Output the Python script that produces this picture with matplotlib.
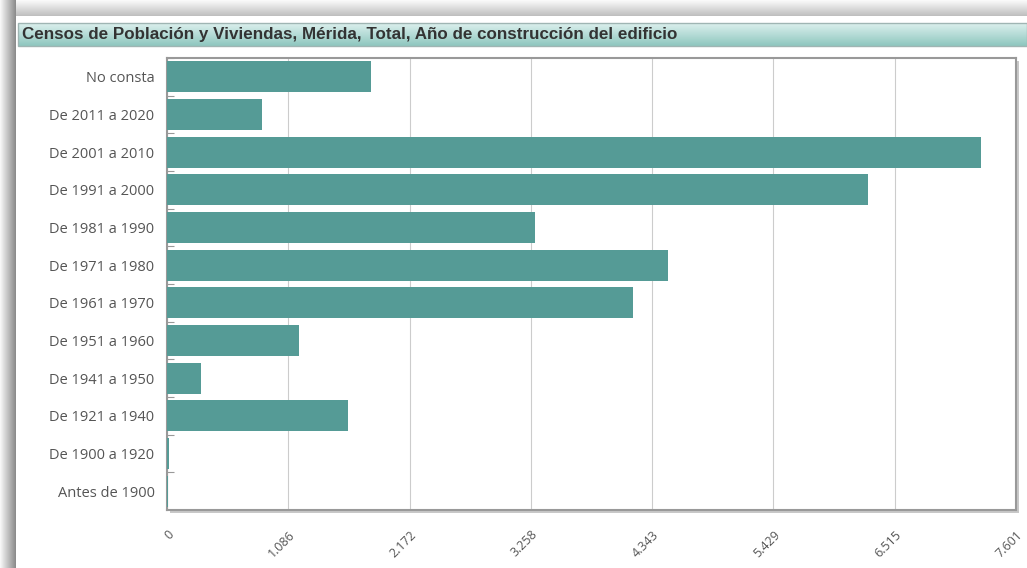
import numpy as np
import matplotlib
matplotlib.use('Agg')
import matplotlib.pyplot as plt
from matplotlib.patches import Rectangle

# data
categorias = ['No consta', 'De 2011 a 2020', 'De 2001 a 2010', 'De 1991 a 2000',
              'De 1981 a 1990', 'De 1971 a 1980', 'De 1961 a 1970', 'De 1951 a 1960',
              'De 1941 a 1950', 'De 1921 a 1940', 'De 1900 a 1920', 'Antes de 1900']
viviendas = [1826, 851, 7288, 6276, 3295, 4485, 4172, 1182, 304, 1620, 18, 5]
x_max = 7601
x_ticks = [0, 1086, 2172, 3258, 4343, 5429, 6515, 7601]
x_labels = ['0', '1.086', '2.172', '3.258', '4.343', '5.429', '6.515', '7.601']
titulo = 'Censos de Población y Viviendas, Mérida, Total, Año de construcción del edificio'

W, H = 1027, 568
fig = plt.figure(figsize=(W / 100, H / 100), dpi=100)

# background shadow of the outer panel
bg = fig.add_axes([0, 0, 1, 1])
bg.set_xlim(0, W)
bg.set_ylim(H, 0)
bg.axis('off')
top = np.linspace(0.98, 0.75, 16).reshape(-1, 1) * np.ones((1, 50))
bg.imshow(np.dstack([top] * 3), extent=(0, W, 16, 0), aspect='auto', zorder=0)
left = np.linspace(0.97, 0.55, 16).reshape(1, -1) * np.ones((50, 1))
bg.imshow(np.dstack([left] * 3), extent=(0, 16, H, 0), aspect='auto', zorder=1)
bg.add_patch(Rectangle((16, 16), W - 16, H - 16, facecolor='white', edgecolor='none', zorder=2))

# title bar with gradient
c1 = np.array([0.86, 0.94, 0.93])
c2 = np.array([0.56, 0.78, 0.75])
t = np.linspace(0, 1, 30).reshape(-1, 1, 1)
grad = (c1 * (1 - t) + c2 * t) * np.ones((1, 10, 1))
bg.imshow(grad, extent=(18, W, 46, 23), aspect='auto', zorder=3)
bg.add_patch(Rectangle((18, 23), W - 18, 23, facecolor='none', edgecolor='#9fb5b3', lw=1, zorder=4))
bg.text(22, 35, titulo, fontsize=12.25, fontweight='bold', color='#333333',
        family='Liberation Sans', va='center', ha='left', zorder=5)

# plot frame shadow
bg.add_patch(Rectangle((170, 61), 1016 - 167, 510 - 58, facecolor='#c8c8c8', edgecolor='none', zorder=3))

ax = fig.add_axes([167 / W, 1 - 510 / H, (1016 - 167) / W, (510 - 58) / H])
ax.set_facecolor('white')
y = np.arange(len(categorias))
ax.barh(y, viviendas, height=0.82, color='#559b96', zorder=3)
ax.set_ylim(len(categorias) - 0.5, -0.5)
ax.set_xlim(0, x_max)
ax.set_xticks(x_ticks)
ax.set_xticklabels(x_labels, rotation=45, ha='right', va='top', fontsize=9,
                   color='#555555', family='Open Sans', rotation_mode='anchor')
ax.set_yticks(y)
ax.set_yticklabels(categorias, fontsize=10.5, color='#555555', family='Open Sans')
ax.set_yticks(np.arange(len(categorias)) - 0.5, minor=True)
ax.tick_params(axis='y', which='major', length=0, pad=9)
ax.tick_params(axis='y', which='minor', direction='in', length=5, color='#999999', width=0.8)
ax.tick_params(axis='x', length=0, pad=13)
ax.grid(axis='x', color='#cccccc', lw=0.8, zorder=0)
for s in ax.spines.values():
    s.set_color('#999999')
    s.set_linewidth(1.5)

fig.savefig('out.png', dpi=100)
